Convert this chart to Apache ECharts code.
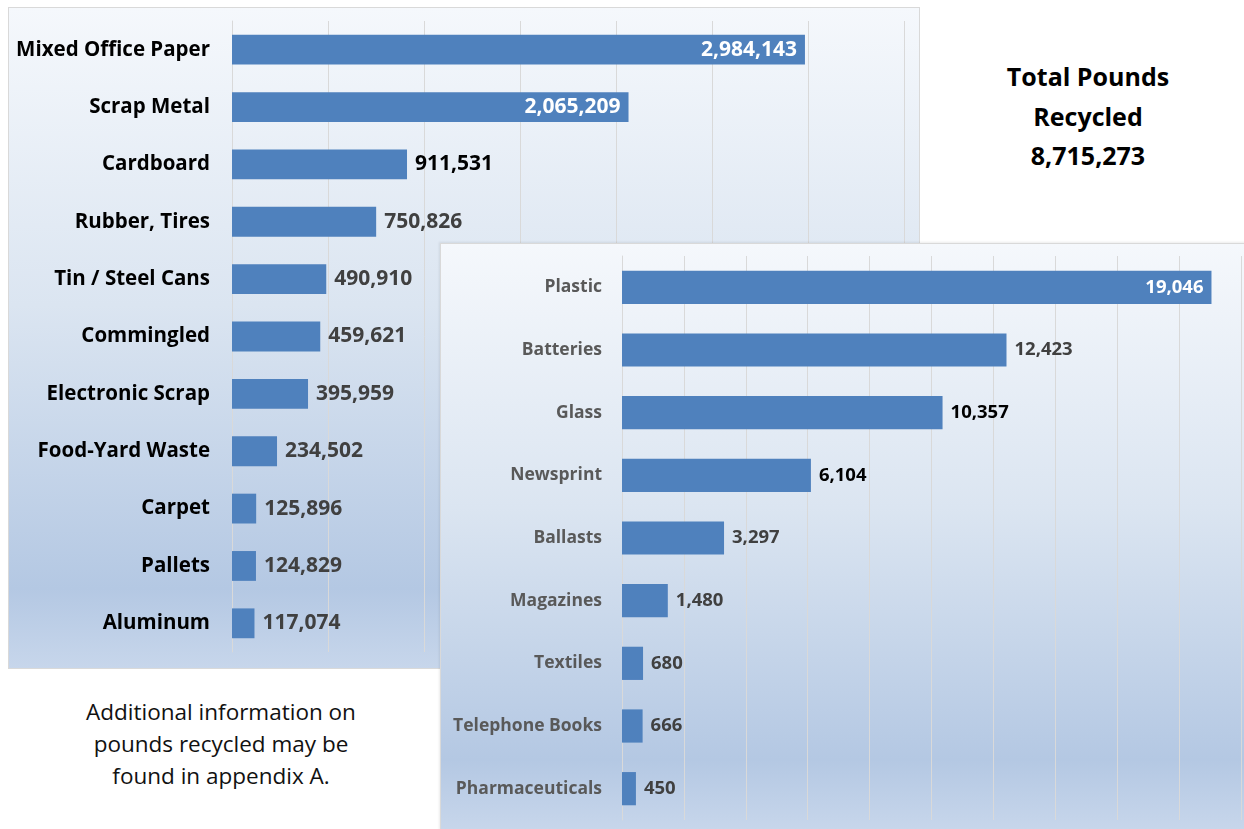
<!DOCTYPE html>
<html>
<head>
<meta charset="utf-8">
<script src="https://cdn.jsdelivr.net/npm/echarts@6/dist/echarts.min.js"></script>
<style>
  html, body { margin: 0; padding: 0; background: #ffffff; width: 1244px; height: 829px; overflow: hidden; }
  .panel { position: absolute; box-sizing: border-box; border: 1px solid #d9d9d9;
    background: linear-gradient(to bottom, #f5f8fc 0%, #dbe5f1 45%, #b4c8e3 88%, #c7d6eb 100%); }
  #left { left: 8px; top: 7px; width: 912px; height: 662px; }
  #right { left: 440px; top: 243px; width: 806px; height: 588px; box-shadow: -1px -1px 2px rgba(0,0,0,0.08); }
  .txt { position: absolute; text-align: center; font-family: "Open Sans", "Noto Sans", sans-serif; color: #000; }
  #total { left: 960px; top: 57px; width: 256px; font-size: 25px; font-weight: bold; line-height: 39.5px; }
  #note { left: 40px; top: 696px; width: 362px; font-size: 22.5px; line-height: 32px; color: #111; }
</style>
</head>
<body>
<div id="left" class="panel"></div>
<div id="right" class="panel"></div>
<div id="total" class="txt">Total Pounds<br>Recycled<br>8,715,273</div>
<div id="note" class="txt">Additional information on<br>pounds recycled may be<br>found in appendix A.</div>
<script>
// ---- data ----
const leftCategories = ["Mixed Office Paper", "Scrap Metal", "Cardboard", "Rubber, Tires", "Tin / Steel Cans", "Commingled", "Electronic Scrap", "Food-Yard Waste", "Carpet", "Pallets", "Aluminum"];
const leftValues = [2984143, 2065209, 911531, 750826, 490910, 459621, 395959, 234502, 125896, 124829, 117074];
const rightCategories = ["Plastic", "Batteries", "Glass", "Newsprint", "Ballasts", "Magazines", "Textiles", "Telephone Books", "Pharmaceuticals"];
const rightValues = [19046, 12423, 10357, 6104, 3297, 1480, 680, 666, 450];

// ---- styles (not data) ----
const FONT = '"Open Sans", "Noto Sans", sans-serif';
const BAR = '#4f81bd';
const leftInside = [0, 1];
const leftBlack = [2];
const rightInside = [0];
const rightBlack = [2, 3];

function fmt(v) { return v.toLocaleString('en-US'); }

function buildData(values, insideIdx, blackIdx, size) {
  return values.map((v, i) => {
    const inside = insideIdx.indexOf(i) >= 0;
    return {
      value: v,
      label: {
        position: inside ? 'insideRight' : 'right',
        distance: 8,
        color: inside ? '#ffffff' : (blackIdx.indexOf(i) >= 0 ? '#000000' : '#404040'),
        fontSize: size
      }
    };
  });
}

function makeOption(cats, values, insideIdx, blackIdx, grid, max, interval, catSize, catColor, valSize, barW, margin) {
  return {
    animation: false,
    backgroundColor: 'transparent',
    grid: grid,
    xAxis: {
      type: 'value', min: 0, max: max, interval: interval,
      axisLabel: { show: false }, axisLine: { show: false }, axisTick: { show: false },
      splitLine: { show: true, lineStyle: { color: '#d9d9d9', width: 1 } }
    },
    yAxis: {
      type: 'category', data: cats, inverse: true,
      axisLine: { show: true, lineStyle: { color: '#d9d9d9', width: 1 } }, axisTick: { show: false },
      axisLabel: { margin: margin, fontFamily: FONT, fontWeight: 'bold', fontSize: catSize, color: catColor, padding: [3, 0, 0, 0] }
    },
    series: [{
      type: 'bar',
      data: buildData(values, insideIdx, blackIdx, valSize),
      barWidth: barW,
      itemStyle: { color: BAR },
      label: { show: true, fontFamily: FONT, fontWeight: 'bold', padding: [3, 0, 0, 0], formatter: p => fmt(p.value) }
    }]
  };
}

const leftChart = echarts.init(document.getElementById('left'), null, { renderer: 'canvas' });
leftChart.setOption(makeOption(leftCategories, leftValues, leftInside, leftBlack,
  { left: 223, right: 15, top: 13, bottom: 16 }, 3500000, 500000, 20.5, '#000000', 21, '52%', 22));

const rightChart = echarts.init(document.getElementById('right'), null, { renderer: 'canvas' });
rightChart.setOption(makeOption(rightCategories, rightValues, rightInside, rightBlack,
  { left: 181, right: 4, top: 12, bottom: 10 }, 20000, 2000, 17.5, '#595959', 18.5, '53%', 20));
</script>
</body>
</html>
